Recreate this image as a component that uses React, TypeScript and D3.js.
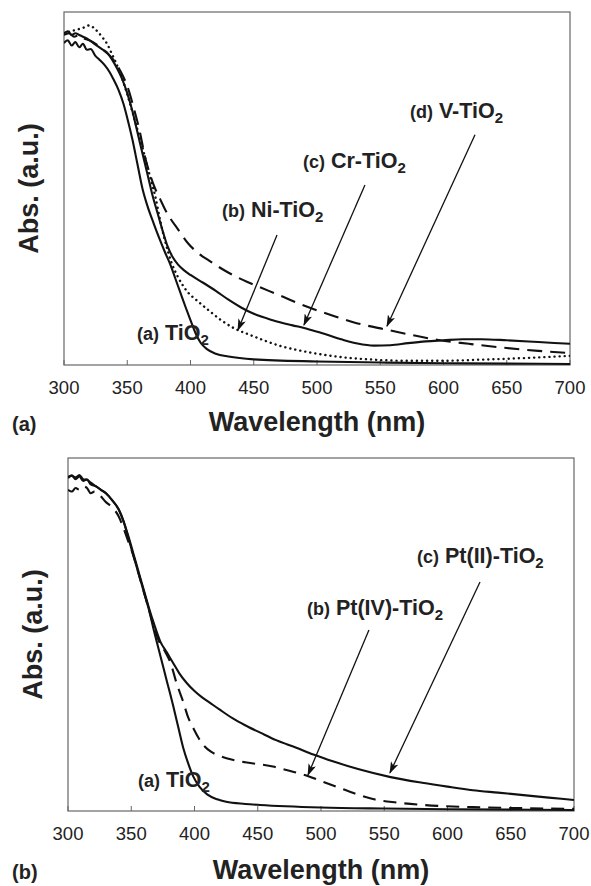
import React from "react";
import * as d3 from "d3";

type Pt = [number, number];

const wavelengthTicks = [300, 350, 400, 450, 500, 550, 600, 650, 700];

// panel (a): wavelength (nm), absorbance (a.u.)
const tio2A: Pt[] = [
  [300, 0.912], [303, 0.92], [306, 0.905], [309, 0.915], [312, 0.9], [315, 0.91], [318, 0.893],
  [321, 0.895], [325, 0.875], [328, 0.865], [332, 0.85], [336, 0.83], [339, 0.81], [343, 0.78],
  [347, 0.74], [350, 0.7], [354, 0.64], [358, 0.57], [362, 0.5], [366, 0.45], [371, 0.4],
  [376, 0.353], [380, 0.318], [384, 0.285], [388, 0.245], [392, 0.205], [396, 0.165], [400, 0.127],
  [404, 0.09], [408, 0.063], [413, 0.045], [420, 0.032], [430, 0.024], [450, 0.016], [500, 0.01],
  [550, 0.007], [600, 0.005], [650, 0.004], [700, 0.003],
];
const niA: Pt[] = [
  [300, 0.94], [305, 0.945], [310, 0.95], [315, 0.955], [320, 0.962], [325, 0.95], [330, 0.93],
  [334, 0.91], [338, 0.88], [343, 0.84], [348, 0.79], [353, 0.73], [357, 0.68], [361, 0.63],
  [365, 0.575], [369, 0.52], [372, 0.48], [376, 0.41], [380, 0.35], [385, 0.29], [390, 0.25],
  [397, 0.21], [406, 0.18], [415, 0.153], [425, 0.125], [435, 0.103], [445, 0.088], [458, 0.07],
  [470, 0.055], [485, 0.042], [500, 0.032], [520, 0.022], [545, 0.015], [570, 0.012], [600, 0.012],
  [630, 0.015], [660, 0.019], [700, 0.026],
];
const crA: Pt[] = [
  [300, 0.94], [303, 0.945], [306, 0.935], [309, 0.94], [312, 0.935], [315, 0.93], [318, 0.925],
  [322, 0.915], [326, 0.905], [330, 0.895], [334, 0.885], [338, 0.865], [342, 0.84], [346, 0.81],
  [350, 0.77], [354, 0.72], [358, 0.66], [362, 0.6], [366, 0.54], [370, 0.48], [374, 0.43],
  [378, 0.38], [382, 0.335], [386, 0.305], [390, 0.285], [395, 0.268], [400, 0.255], [410, 0.233],
  [420, 0.21], [430, 0.185], [440, 0.163], [450, 0.145], [465, 0.127], [480, 0.113], [492, 0.103],
  [505, 0.089], [520, 0.072], [532, 0.061], [545, 0.055], [558, 0.056], [572, 0.062], [586, 0.067],
  [600, 0.07], [615, 0.073], [630, 0.073], [650, 0.07], [675, 0.065], [700, 0.06],
];
const vA: Pt[] = [
  [300, 0.935], [304, 0.94], [308, 0.93], [312, 0.935], [316, 0.925], [320, 0.92], [325, 0.91],
  [330, 0.895], [335, 0.88], [340, 0.86], [345, 0.83], [350, 0.79], [355, 0.73], [360, 0.66],
  [364, 0.59], [368, 0.54], [372, 0.5], [376, 0.47], [380, 0.44], [385, 0.41], [390, 0.385],
  [398, 0.345], [405, 0.32], [415, 0.295], [425, 0.272], [435, 0.252], [445, 0.235], [455, 0.22],
  [470, 0.198], [485, 0.175], [500, 0.155], [515, 0.137], [530, 0.12], [555, 0.1], [575, 0.085],
  [597, 0.07], [620, 0.06], [650, 0.048], [675, 0.04], [700, 0.034],
];

// panel (b)
const tio2B: Pt[] = [
  [300, 0.943], [303, 0.95], [306, 0.94], [309, 0.948], [312, 0.935], [315, 0.94], [318, 0.925],
  [322, 0.92], [326, 0.91], [330, 0.9], [335, 0.88], [340, 0.855], [344, 0.82], [348, 0.77],
  [352, 0.72], [356, 0.67], [360, 0.62], [364, 0.57], [368, 0.51], [373, 0.44], [378, 0.37],
  [383, 0.3], [387, 0.24], [391, 0.18], [395, 0.135], [399, 0.098], [404, 0.068], [410, 0.047],
  [418, 0.033], [425, 0.026], [440, 0.02], [452, 0.017], [500, 0.01], [550, 0.007], [600, 0.005],
  [700, 0.003],
];
const ptIVB: Pt[] = [
  [300, 0.91], [303, 0.905], [306, 0.915], [309, 0.91], [312, 0.92], [315, 0.915], [318, 0.9],
  [321, 0.905], [325, 0.895], [330, 0.875], [335, 0.86], [340, 0.835], [344, 0.8], [348, 0.76],
  [352, 0.72], [356, 0.67], [360, 0.62], [364, 0.57], [368, 0.52], [372, 0.48], [377, 0.45],
  [381, 0.42], [386, 0.36], [391, 0.31], [395, 0.265], [399, 0.235], [403, 0.208], [407, 0.187],
  [413, 0.168], [420, 0.156], [430, 0.145], [440, 0.138], [452, 0.132], [462, 0.126], [475, 0.114],
  [489, 0.1], [502, 0.082], [515, 0.065], [528, 0.048], [541, 0.034], [560, 0.024], [581, 0.017],
  [620, 0.011], [660, 0.008], [700, 0.006],
];
const ptIIB: Pt[] = [
  [300, 0.946], [303, 0.95], [306, 0.945], [309, 0.952], [312, 0.94], [315, 0.938], [318, 0.93],
  [322, 0.92], [326, 0.91], [330, 0.9], [335, 0.88], [340, 0.855], [344, 0.82], [348, 0.775],
  [352, 0.725], [356, 0.675], [360, 0.625], [364, 0.575], [368, 0.53], [373, 0.48], [378, 0.45],
  [383, 0.42], [388, 0.39], [394, 0.362], [400, 0.34], [406, 0.322], [412, 0.307], [420, 0.287],
  [430, 0.263], [440, 0.243], [452, 0.222], [465, 0.2], [480, 0.18], [494, 0.16], [510, 0.14],
  [530, 0.118], [555, 0.096], [580, 0.08], [600, 0.069], [620, 0.059], [640, 0.052], [660, 0.045],
  [680, 0.038], [700, 0.031],
];

// annotation text: tag + name, anchored at (wavelength, absorbance)
const notesA = [
  { tag: "(a)", name: "TiO", at: [357.7, 0.071] as Pt },
  { tag: "(b)", name: "Ni-TiO", at: [424.9, 0.419] as Pt },
  { tag: "(c)", name: "Cr-TiO", at: [488.9, 0.558] as Pt },
  { tag: "(d)", name: "V-TiO", at: [573.5, 0.7] as Pt },
];
const arrowsA: [Pt, Pt][] = [
  [[468.4, 0.368], [437.5, 0.099]],
  [[537.9, 0.51], [489.7, 0.113]],
  [[624.9, 0.652], [555.3, 0.11]],
];
const notesB = [
  { tag: "(a)", name: "TiO", at: [355.3, 0.068] as Pt },
  { tag: "(b)", name: "Pt(IV)-TiO", at: [488.9, 0.555] as Pt },
  { tag: "(c)", name: "Pt(II)-TiO", at: [575.9, 0.703] as Pt },
];
const arrowsB: [Pt, Pt][] = [
  [[537.9, 0.513], [489.7, 0.102]],
  [[625.7, 0.649], [554.5, 0.108]],
];

const FONT = "'Liberation Sans', Arial, sans-serif";
const SOLID = "none";
const DASH_A = "15 8";
const DASH_B = "13 8";
const DOT = "0.1 5";

type Series = { data: Pt[]; dash: string };
type Note = { tag: string; name: string; at: Pt };

function Panel(props: {
  id: string;
  left: number;
  top: number;
  letter: string;
  titleGap: number;
  series: Series[];
  notes: Note[];
  arrows: [Pt, Pt][];
}) {
  const { id, left, top, letter, titleGap, series, notes, arrows } = props;
  const w = 506;
  const h = 353;
  const x = d3.scaleLinear().domain([300, 700]).range([left, left + w]);
  const y = d3.scaleLinear().domain([0, 1]).range([top + h, top]);
  const line = d3
    .line<Pt>()
    .x((d) => x(d[0]))
    .y((d) => y(d[1]))
    .curve(d3.curveMonotoneX);

  return (
    <g>
      <defs>
        <clipPath id={"clip-" + id}>
          <rect x={left} y={top} width={w} height={h} />
        </clipPath>
      </defs>
      <rect x={left} y={top} width={w} height={h} fill="none" stroke="#666" strokeWidth={1.2} />
      {wavelengthTicks.map((t) => (
        <g key={t}>
          <line x1={x(t)} x2={x(t)} y1={top + h} y2={top + h - 5} stroke="#666" strokeWidth={1} />
          <text x={x(t)} y={top + h + 28.5} textAnchor="middle" fontSize={18.5} fill="#222" fontFamily={FONT}>
            {t}
          </text>
        </g>
      ))}
      <g clipPath={`url(#clip-${id})`}>
        {series.map((s, i) => (
          <path
            key={i}
            d={line(s.data) || ""}
            fill="none"
            stroke="#111"
            strokeWidth={s.dash === DOT ? 2.4 : 2.1}
            strokeDasharray={s.dash === SOLID ? undefined : s.dash}
            strokeLinecap={s.dash === DOT ? "round" : "butt"}
            strokeLinejoin="round"
          />
        ))}
      </g>
      {arrows.map(([a, b], i) => (
        <line
          key={i}
          x1={x(a[0])}
          y1={y(a[1])}
          x2={x(b[0])}
          y2={y(b[1])}
          stroke="#111"
          strokeWidth={1.3}
          markerEnd="url(#arrowhead)"
        />
      ))}
      {notes.map((n) => (
        <text key={n.tag} x={x(n.at[0])} y={y(n.at[1])} fontFamily={FONT} fontWeight="bold" fill="#222">
          <tspan fontSize={18}>{n.tag}</tspan>
          <tspan fontSize={21.5}> {n.name}</tspan>
          <tspan fontSize={15} dy={5}>2</tspan>
        </text>
      ))}
      <text
        transform={`translate(${left - 35},${top + h / 2}) rotate(-90)`}
        dy="0.35em"
        textAnchor="middle"
        fontSize={27}
        fontWeight="bold"
        fontFamily={FONT}
        fill="#222"
      >
        Abs. (a.u.)
      </text>
      <text
        x={left + w / 2}
        y={top + h + titleGap}
        textAnchor="middle"
        fontSize={27}
        fontWeight="bold"
        fontFamily={FONT}
        fill="#222"
      >
        Wavelength (nm)
      </text>
      <text x={12} y={top + h + titleGap} fontSize={20} fontWeight="bold" fontFamily={FONT} fill="#222">
        {letter}
      </text>
    </g>
  );
}

export default function App() {
  return (
    <svg
      width={591}
      height={886}
      style={{ position: "absolute", left: 0, top: 0, background: "#fff" }}
    >
      <defs>
        <marker
          id="arrowhead"
          viewBox="0 0 12 8"
          refX={11}
          refY={4}
          markerWidth={12}
          markerHeight={8}
          markerUnits="userSpaceOnUse"
          orient="auto"
        >
          <path d="M0,0 L12,4 L0,8 L3,4 Z" fill="#111" />
        </marker>
      </defs>
      <rect width={591} height={886} fill="#fff" />
      <Panel
        id="a"
        left={64}
        top={12}
        letter="(a)"
        titleGap={66}
        series={[
          { data: tio2A, dash: SOLID },
          { data: niA, dash: DOT },
          { data: crA, dash: SOLID },
          { data: vA, dash: DASH_A },
        ]}
        notes={notesA}
        arrows={arrowsA}
      />
      <Panel
        id="b"
        left={68}
        top={458}
        letter="(b)"
        titleGap={68}
        series={[
          { data: tio2B, dash: SOLID },
          { data: ptIVB, dash: DASH_B },
          { data: ptIIB, dash: SOLID },
        ]}
        notes={notesB}
        arrows={arrowsB}
      />
    </svg>
  );
}
